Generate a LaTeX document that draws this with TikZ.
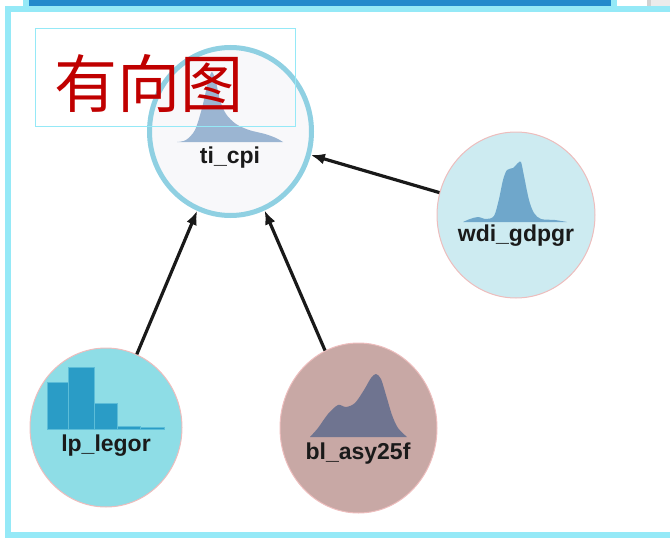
\documentclass[tikz,border=0pt]{standalone}
\usepackage{fontspec}
\setmainfont{Liberation Sans}
\newfontfamily\cjk{Noto Sans CJK SC}
\usetikzlibrary{shapes.geometric,arrows.meta}
\definecolor{framecyan}{HTML}{95E9F7}
\definecolor{barblue}{HTML}{2289CC}
\definecolor{tiedge}{HTML}{8FD0E2}
\definecolor{tifill}{HTML}{F8F8FA}
\definecolor{lpfill}{HTML}{8EDDE6}
\definecolor{wdifill}{HTML}{CDEBF1}
\definecolor{blfill}{HTML}{C8A8A5}
\definecolor{pinkedge}{HTML}{EDBDBD}
\definecolor{tidist}{HTML}{9BB5D2}
\definecolor{wdidist}{HTML}{6FA7CB}
\definecolor{bldist}{HTML}{6F7490}
\definecolor{lpbar}{HTML}{2A9CC6}
\definecolor{lpgap}{HTML}{5CBDD8}
\definecolor{titlered}{HTML}{C00000}
\definecolor{labeltext}{HTML}{1A1A1A}
\tikzset{
  varnode/.style={ellipse, draw=pinkedge, line width=1pt, inner sep=0pt},
  lbl/.style={font=\fontsize{23}{23}\selectfont\bfseries, text=labeltext, anchor=base, inner sep=0pt},
  edgearrow/.style={-{Latex[length=14pt,width=11pt]}, line width=3.2pt, draw=black!90},
}
\begin{document}
\begin{tikzpicture}[x=1pt,y=-1pt]
\useasboundingbox (0,0) rectangle (670,538);
% top strip
\fill[framecyan] (23,0) rectangle (617,6);
\fill[barblue] (29,0) rectangle (611,6);
\fill[black!8] (647,0) rectangle (670,6);
\fill[black!18] (647,0) rectangle (651,6);
% frame
\draw[framecyan, line width=6pt] (8,9) rectangle (690,535);

% nodes
\node[varnode, draw=tiedge, line width=5pt, fill=tifill, minimum width=162pt, minimum height=168pt] (ticpi) at (230.5,131.5) {};
\node[varnode, fill=wdifill, minimum width=158pt, minimum height=166pt] (wdi) at (516,215) {};
\node[varnode, fill=lpfill, minimum width=152pt, minimum height=159pt] (lp) at (106,427.5) {};
\node[varnode, fill=blfill, minimum width=157pt, minimum height=170pt] (bl) at (358.5,428) {};

% distributions
\fill[tidist] plot[smooth] coordinates {(177,142) (186,140) (195,130) (202,108) (208,82) (212,72) (216,82) (220,100) (226,114) (236,124) (249,130) (265,134) (276,138) (283,142)} -- cycle;
\fill[wdidist] plot[smooth] coordinates {(463,222) (470,219) (478,217) (486,219) (494,216) (499,199) (503,180) (507,170) (513,168) (518,163) (521,162) (524,176) (529,200) (534,213) (541,219) (555,220) (567,222)} -- cycle;
\fill[bldist] plot[smooth] coordinates {(310,437) (318,428) (328,414) (338,405) (346,407) (355,403) (364,390) (371,378) (376,374) (381,379) (386,395) (392,415) (398,428) (407,437)} -- cycle;
\foreach \xa/\xb/\yt in {47/68/382, 68/94/367, 94/117/403, 117/140/426, 140/164/427}
  \filldraw[fill=lpbar, draw=lpgap, line width=0.7pt] (\xa,429) rectangle (\xb,\yt);

% labels
\node[lbl] (ticpi-l) at (230,163) {ti\_cpi};
\node[lbl] (wdi-l) at (516,241) {wdi\_gdpgr};
\node[lbl] (lp-l) at (106,451) {lp\_legor};
\node[lbl] (bl-l) at (358,459) {bl\_asy25f};

% edges
\draw[edgearrow] (wdi) -- (ticpi);
\draw[edgearrow] (lp) -- (ticpi);
\draw[edgearrow] (bl) -- (ticpi);

% title
\node[draw=framecyan, line width=1pt, minimum width=260pt, minimum height=98pt, inner sep=0pt] (titlebox) at (165,77) {};
\node[font=\cjk\fontsize{63}{63}\selectfont, text=titlered, anchor=base, inner sep=0pt] (title) at (149,107) {有向图};
\end{tikzpicture}
\end{document}
